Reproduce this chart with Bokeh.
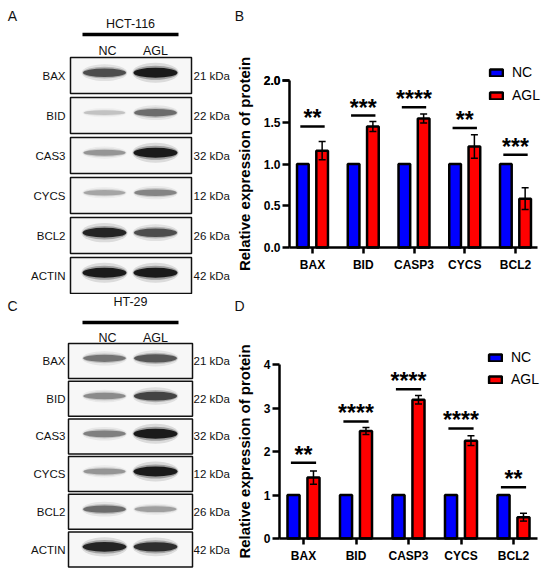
import numpy as np
from bokeh.plotting import figure
from bokeh.layouts import row, column
from bokeh.models import (Range1d, Legend, LegendItem, Whisker, ColumnDataSource, TeeHead, FixedTicker,
                          AllLabels, Label)
from bokeh.embed import file_html
from bokeh.resources import INLINE
from bokeh.core.properties import value

FONT = "Liberation Sans"

# ---------------- data ----------------
chart_labels = ["BAX", "BID", "CASP3", "CYCS", "BCL2"]
series_names = ["NC", "AGL"]

# Panel B (HCT-116)
nc_B = [1.0, 1.0, 1.0, 1.0, 1.0]
agl_B = [1.16, 1.45, 1.545, 1.21, 0.585]
err_B = [0.11, 0.06, 0.055, 0.14, 0.13]
sig_B = ["**", "***", "****", "**", "***"]
sigy_B = [1.45, 1.58, 1.68, 1.43, 1.11]
ticks_B = [0.0, 0.5, 1.0, 1.5, 2.0]
ticklabels_B = ["0.0", "0.5", "1.0", "1.5", "2.0"]

# Panel D (HT-29)
nc_D = [1.0, 1.0, 1.0, 1.0, 1.0]
agl_D = [1.40, 2.47, 3.19, 2.25, 0.49]
err_D = [0.15, 0.08, 0.10, 0.11, 0.09]
sig_D = ["**", "****", "****", "****", "**"]
sigy_D = [1.74, 2.69, 3.43, 2.53, 1.18]
ticks_D = [0.0, 1.0, 2.0, 3.0, 4.0]
ticklabels_D = ["0", "1", "2", "3", "4"]

# Western blots: band intensity (0 = none, 1 = saturated)
blot_rows = ["BAX", "BID", "CAS3", "CYCS", "BCL2", "ACTIN"]
blot_kda = ["21 kDa", "22 kDa", "32 kDa", "12 kDa", "26 kDa", "42 kDa"]
lanes = ["NC", "AGL"]
hct_nc = [0.75, 0.18, 0.40, 0.32, 0.95, 1.00]
hct_agl = [1.00, 0.60, 1.00, 0.48, 0.75, 1.00]
ht_nc = [0.55, 0.45, 0.50, 0.40, 0.60, 0.95]
ht_agl = [0.70, 0.80, 1.00, 1.00, 0.35, 0.90]

LEFT_W = 230
RIGHT_W = 320
TOP_H = 294
BOT_H = 283


def gray(i, a=230, b=215):
    v = int(max(0, min(255, a - b * i)))
    return "#%02x%02x%02x" % (v, v, v)


def make_blot(letter, cell, nc, agl, fig_top, fig_h, row0, pitch, box_h, box_l, box_r,
              cell_y, bar_y, lane_y, letter_y):
    W = LEFT_W
    lane0 = 104.0
    dx = 51.0
    x0 = (0 - lane0) / dx
    x1 = (W - lane0) / dx
    ytop = (fig_top - row0) / pitch
    ybot = (fig_top + fig_h - row0) / pitch
    p = figure(width=W, height=fig_h, x_range=Range1d(x0, x1), y_range=Range1d(ybot, ytop),
               x_axis_type=None, y_axis_type=None, toolbar_location=None, output_backend="svg",
               min_border=0)
    p.outline_line_color = None
    p.grid.visible = False
    n = len(blot_rows)
    rows = np.arange(n)
    bc = ((box_l + box_r) / 2 - lane0) / dx
    bw = (box_r - box_l) / dx
    bh = box_h / pitch
    p.rect(x=[bc] * n, y=rows, width=bw, height=bh, fill_color="#f7f7f7",
           line_color="#111111", line_width=1.5)
    for li, vals in enumerate([nc, agl]):
        vals = np.array(vals)
        xs = np.full(n, float(li))
        ys = rows - 0.07
        w = 0.80 + 0.06 * vals
        h = (3.5 + 6.5 * vals) / pitch
        cols = [gray(v) for v in vals]
        p.ellipse(x=xs, y=ys, width=w * 1.06, height=h * 2.0, fill_color=cols, fill_alpha=0.12, line_color=None)
        p.ellipse(x=xs, y=ys, width=w * 1.02, height=h * 1.4, fill_color=cols, fill_alpha=0.3, line_color=None)
        p.ellipse(x=xs, y=ys, width=w, height=h, fill_color=cols, fill_alpha=0.92, line_color=None)
    p.text(x=[(65 - lane0) / dx] * n, y=rows, text=blot_rows, text_align="right", text_baseline="middle",
           text_font=value(FONT), text_font_size="11.5px", text_color="#111111")
    p.text(x=[(193 - lane0) / dx] * n, y=rows, text=blot_kda, text_align="left", text_baseline="middle",
           text_font=value(FONT), text_font_size="11.5px", text_color="#111111")
    p.text(x=[(130 - lane0) / dx], y=[(cell_y - row0) / pitch], text=[cell], text_align="center",
           text_baseline="middle", text_font=value(FONT), text_font_size="12.5px", text_color="#111111")
    p.segment(x0=[(82 - lane0) / dx], x1=[(178 - lane0) / dx], y0=[(bar_y - row0) / pitch],
              y1=[(bar_y - row0) / pitch], line_width=3.5, line_color="#000000")
    p.text(x=[0.06, 1.0], y=[(lane_y - row0) / pitch] * 2, text=lanes, text_align="center",
           text_baseline="middle", text_font=value(FONT), text_font_size="12.5px", text_color="#111111")
    p.text(x=[(12 - lane0) / dx], y=[(letter_y - row0) / pitch], text=[letter], text_align="center",
           text_baseline="middle", text_font=value(FONT), text_font_size="14px", text_color="#111111")
    return p


def make_chart(letter, letter_y, nc, agl, err, sig, sigy, ticks, ticklabels, fig_top, fig_h,
               axis_x, grp0_x, grp_dx, base_y, unit_y, leg_left, leg_top, leg_spacing, patch_top=False):
    W = RIGHT_W
    fig_left = LEFT_W

    def xd(px):
        return (px - grp0_x) / grp_dx

    def yd(py):
        return (base_y - py) / unit_y

    p = figure(width=W, height=fig_h, x_range=Range1d(xd(fig_left), xd(fig_left + W)),
               y_range=Range1d(yd(fig_top + fig_h), yd(fig_top)),
               toolbar_location=None, output_backend="svg", min_border=0)
    p.outline_line_color = None
    p.grid.visible = False
    g = np.arange(len(chart_labels), dtype=float)
    off = 0.19
    bw = 0.23
    r_nc = p.vbar(x=g - off, top=nc, width=bw, fill_color="#0000ff", line_color="#000000", line_width=2.5)
    r_agl = p.vbar(x=g + off, top=agl, width=bw, fill_color="#ff0000", line_color="#000000", line_width=2.5)
    src = ColumnDataSource(dict(x=g + off, upper=np.array(agl) + np.array(err), lower=np.array(agl) - np.array(err)))
    wk = Whisker(source=src, base="x", upper="upper", lower="lower", line_width=1.5, line_color="#000000",
                 upper_head=TeeHead(size=7, line_width=1.5, line_color="#000000"),
                 lower_head=TeeHead(size=7, line_width=1.5, line_color="#000000"), level="annotation")
    p.add_layout(wk)
    p.segment(x0=g - 0.24, x1=g + 0.24, y0=sigy, y1=sigy, line_width=2.5, line_color="#000000")
    p.text(x=g, y=sigy, text=sig, text_align="center", text_baseline="alphabetic", y_offset=-8,
           text_font=value(FONT), text_font_style="bold", text_font_size="23px", text_color="#000000")

    for ax in (p.xaxis[0], p.yaxis[0]):
        ax.axis_line_width = 2.5
        ax.axis_line_color = "#000000"
        ax.major_tick_line_width = 2.5
        ax.major_tick_line_color = "#000000"
        ax.major_tick_in = 0
        ax.minor_tick_line_color = None
        ax.major_label_text_font = FONT
        ax.major_label_text_font_style = "bold"
        ax.major_label_text_font_size = "12px"
        ax.major_label_text_color = "#000000"
        ax.major_label_policy = AllLabels()
    xa = p.xaxis[0]
    xa.fixed_location = 0
    xa.ticker = FixedTicker(ticks=list(g))
    xa.major_label_overrides = {float(i): lab for i, lab in enumerate(chart_labels)}
    xa.major_tick_out = 6
    xa.major_label_standoff = 4
    xa.bounds = (xd(axis_x), xd(537))
    ya = p.yaxis[0]
    ya.fixed_location = xd(axis_x)
    top = max(ticks)
    ya.ticker = FixedTicker(ticks=list(ticks))
    ya.major_label_overrides = {float(t): s for t, s in zip(ticks, ticklabels)}
    ya.major_tick_out = 7
    ya.major_label_standoff = 2
    ya.bounds = (0, top)
    ya.axis_label = "Relative expression of protein"
    ya.axis_label_text_font = FONT
    ya.axis_label_text_font_style = "bold"
    ya.axis_label_text_font_size = "15px"
    ya.axis_label_text_color = "#000000"
    ya.axis_label_standoff = 8

    legend_h = 16 * 2 + leg_spacing
    leg = Legend(items=[LegendItem(label=series_names[0], renderers=[r_nc]),
                        LegendItem(label=series_names[1], renderers=[r_agl])],
                 location=(leg_left - fig_left, fig_top + fig_h - (leg_top + legend_h)),
                 glyph_width=16, glyph_height=9, label_height=16, label_standoff=8, spacing=leg_spacing,
                 padding=0, margin=0, border_line_color=None, background_fill_alpha=0,
                 label_text_font=FONT, label_text_font_size="14px", label_text_color="#000000")
    p.add_layout(leg)

    if patch_top:
        # top tick of this axis drawn as annotations (the axis itself does not show it here)
        tick_src = ColumnDataSource(dict(base=[top], lower=[xd(axis_x - 7)], upper=[xd(axis_x)]))
        p.add_layout(Whisker(source=tick_src, dimension="width", base="base", lower="lower", upper="upper",
                             lower_head=None, upper_head=None, line_width=2.5, line_color="#000000",
                             level="overlay"))
        p.add_layout(Label(x=xd(axis_x), y=top, text=ticklabels[-1], x_offset=-9, text_align="right",
                           text_baseline="middle", text_font=FONT, text_font_style="bold",
                           text_font_size="12px", text_color="#000000", level="overlay"))

    p.text(x=[xd(239)], y=[yd(letter_y)], text=[letter], text_align="center", text_baseline="middle",
           text_font=value(FONT), text_font_size="14px", text_color="#111111")
    return p


pA = make_blot("A", "HCT-116", hct_nc, hct_agl, fig_top=0, fig_h=TOP_H, row0=75, pitch=40, box_h=36,
               box_l=70, box_r=191, cell_y=23, bar_y=34, lane_y=50, letter_y=15)
pC = make_blot("C", "HT-29", ht_nc, ht_agl, fig_top=TOP_H, fig_h=BOT_H, row0=360.5, pitch=37.7, box_h=35,
               box_l=68, box_r=192, cell_y=301, bar_y=322, lane_y=337, letter_y=305)

pB = make_chart("B", 15, nc_B, agl_B, err_B, sig_B, sigy_B, ticks_B, ticklabels_B, fig_top=0, fig_h=TOP_H,
                axis_x=289, grp0_x=312, grp_dx=50.75, base_y=247, unit_y=83.5,
                leg_left=488, leg_top=64, leg_spacing=7, patch_top=True)
pD = make_chart("D", 305, nc_D, agl_D, err_D, sig_D, sigy_D, ticks_D, ticklabels_D, fig_top=TOP_H,
                fig_h=BOT_H, axis_x=279, grp0_x=303, grp_dx=52.5, base_y=538, unit_y=43.5,
                leg_left=487, leg_top=349, leg_spacing=6)

layout = column(row(pA, pB), row(pC, pD))
open("out.html", "w").write(file_html(layout, INLINE))
